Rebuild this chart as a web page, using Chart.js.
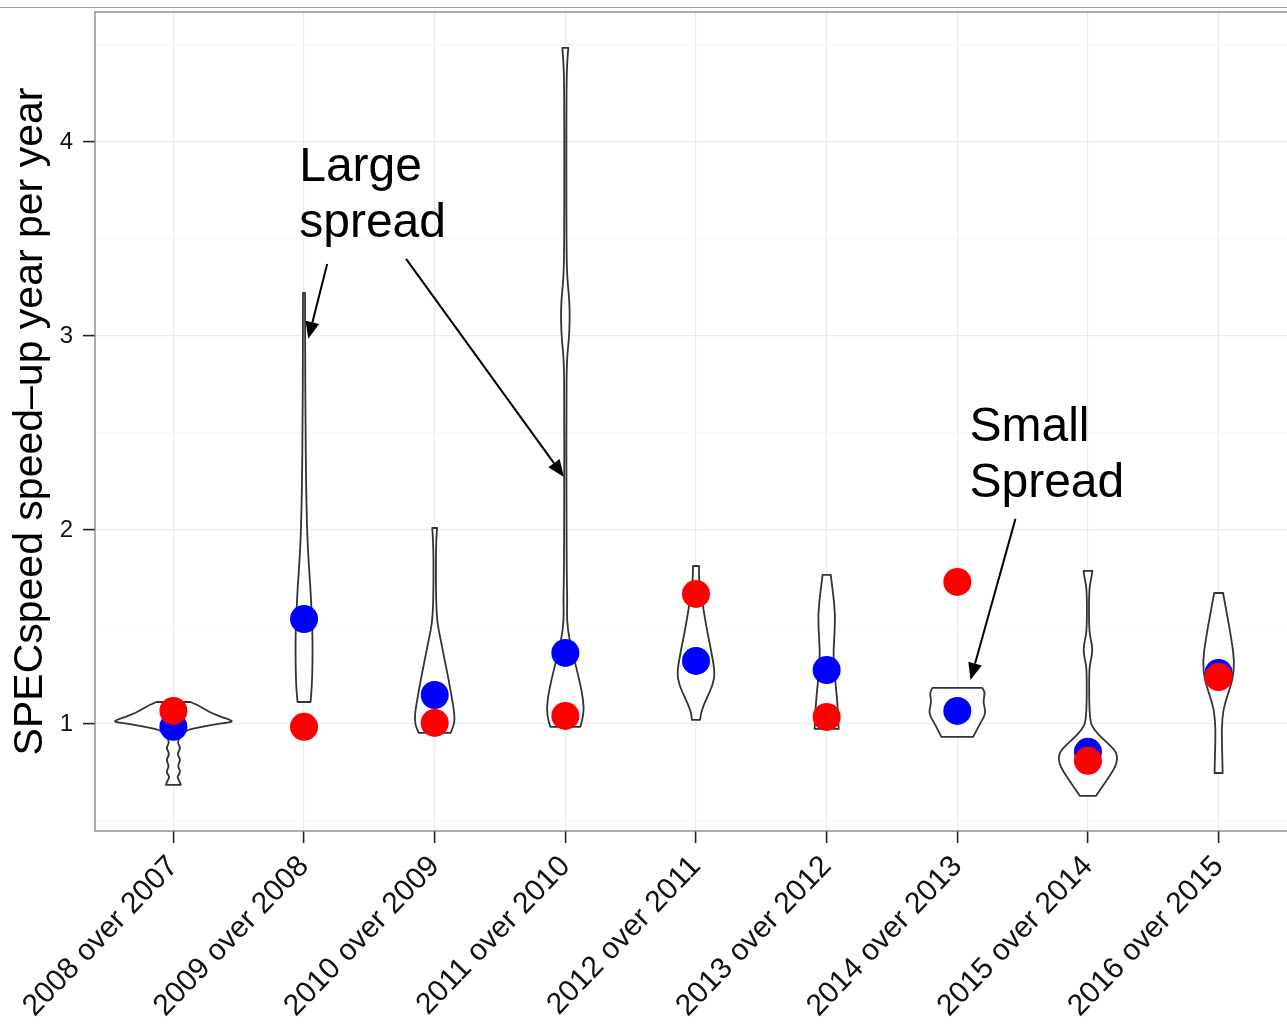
<!DOCTYPE html>
<html>
<head>
<meta charset="utf-8">
<script src="https://cdn.jsdelivr.net/npm/chart.js@4.4.1/dist/chart.umd.min.js"></script>
<style>
  html, body { margin: 0; padding: 0; background: #fff; overflow: hidden; }
  #wrap { width: 1297px; height: 1027px; }
</style>
</head>
<body>
<div id="wrap"><canvas id="myChart" width="1297" height="1027"></canvas></div>
<script>
var FONT = "'Liberation Sans', Arial, Helvetica, sans-serif";

// categories on the x axis
var categories = ["2008 over 2007", "2009 over 2008", "2010 over 2009", "2011 over 2010",
  "2012 over 2011", "2013 over 2012", "2014 over 2013", "2015 over 2014", "2016 over 2015"];

// the two point series
var pointsRed  = [1.067, 0.985, 1.005, 1.041, 1.670, 1.036, 1.732, 0.810, 1.242];
var pointsBlue = [0.985, 1.541, 1.149, 1.366, 1.325, 1.278, 1.067, 0.856, 1.263];

// y ticks
var yMajorTicks = [1, 2, 3, 4];
var yMinorTicks = [0.5, 1.5, 2.5, 3.5, 4.5];

// violin outlines: [value, half width in category units], bottom to top
var violins = [
  [[0.686,0.057],[0.707,0.046],[0.727,0.027],[0.753,0.057],[0.784,0.031],[0.814,0.057],[0.845,0.027],
   [0.876,0.057],[0.902,0.031],[0.928,0.046],[0.948,0.061],[0.969,0.107],[0.985,0.214],[1.000,0.344],
   [1.010,0.455],[1.021,0.436],[1.036,0.367],[1.057,0.291],[1.077,0.237],[1.098,0.183],[1.113,0.130]],
  [[1.113,0.050],[1.201,0.061],[1.330,0.065],[1.459,0.065],[1.588,0.057],[1.691,0.050],[1.845,0.034],
   [2.000,0.023],[2.258,0.015],[2.567,0.011],[2.928,0.008],[3.222,0.008]],
  [[0.954,0.122],[0.995,0.149],[1.046,0.153],[1.124,0.134],[1.227,0.107],[1.330,0.076],[1.433,0.046],
   [1.536,0.015],[1.742,0.008],[1.948,0.011],[2.010,0.019]],
  [[0.985,0.115],[1.046,0.141],[1.124,0.138],[1.227,0.107],[1.330,0.069],[1.433,0.031],[1.536,0.011],
   [1.639,0.015],[1.742,0.011],[2.155,0.008],[2.670,0.008],[2.876,0.011],[2.979,0.027],[3.082,0.034],
   [3.186,0.031],[3.289,0.015],[3.443,0.008],[4.294,0.008],[4.423,0.015],[4.485,0.023]],
  [[1.021,0.031],[1.062,0.038],[1.124,0.076],[1.201,0.130],[1.268,0.145],[1.381,0.115],[1.510,0.076],
   [1.639,0.046],[1.742,0.023],[1.814,0.023]],
  [[0.974,0.092],[1.098,0.084],[1.201,0.069],[1.330,0.050],[1.433,0.057],[1.562,0.067],[1.691,0.046],
   [1.768,0.031]],
  [[0.933,0.122],[0.995,0.168],[1.057,0.222],[1.113,0.195],[1.160,0.214],[1.186,0.191]],
  [[0.629,0.061],[0.696,0.130],[0.773,0.206],[0.825,0.229],[0.866,0.206],[0.918,0.122],[0.969,0.046],
   [1.021,0.011],[1.278,0.008],[1.330,0.023],[1.381,0.036],[1.433,0.023],[1.485,0.008],[1.691,0.008],
   [1.742,0.023],[1.789,0.034]],
  [[0.747,0.031],[0.866,0.027],[0.969,0.023],[1.072,0.034],[1.149,0.069],[1.227,0.107],[1.320,0.122],
   [1.433,0.099],[1.562,0.065],[1.675,0.034]]
];

// annotations (data coordinates)
var notes = [
  {x: 0.963, y: 3.799, lines: ["Large", "spread"]},
  {x: 6.093, y: 2.459, lines: ["Small", "Spread"]}
];
// arrows: [x0, y0, x1 (tip), y1 (tip)]
var arrows = [
  [1.177, 3.371, 1.032, 2.985],
  [1.781, 3.397, 2.989, 2.273],
  [6.445, 2.057, 6.101, 1.227]
];

function smoothTo(ctx, p) {
  ctx.lineTo(p[0][0], p[0][1]);
  for (var k = 1; k < p.length - 1; k++) {
    var mx = (p[k][0] + p[k+1][0]) / 2, my = (p[k][1] + p[k+1][1]) / 2;
    ctx.quadraticCurveTo(p[k][0], p[k][1], mx, my);
  }
  ctx.lineTo(p[p.length-1][0], p[p.length-1][1]);
}

var violinPlugin = {
  id: 'violins',
  beforeDatasetsDraw: function(chart) {
    var ctx = chart.ctx, x = chart.scales.x, y = chart.scales.y;
    ctx.save();
    ctx.lineWidth = 1.8;
    ctx.strokeStyle = '#333';
    ctx.fillStyle = '#fff';
    ctx.lineJoin = 'round';
    violins.forEach(function(prof, i) {
      var right = prof.map(function(d) { return [x.getPixelForValue(i + d[1]), y.getPixelForValue(d[0])]; });
      var left = prof.map(function(d) { return [x.getPixelForValue(i - d[1]), y.getPixelForValue(d[0])]; }).reverse();
      ctx.beginPath();
      ctx.moveTo(right[0][0], right[0][1]);
      smoothTo(ctx, right);
      smoothTo(ctx, left);
      ctx.closePath();
      ctx.fill();
      ctx.stroke();
    });
    ctx.restore();
  }
};

var framePlugin = {
  id: 'frame',
  afterDatasetsDraw: function(chart) {
    var ctx = chart.ctx, a = chart.chartArea, x = chart.scales.x, y = chart.scales.y;
    ctx.save();
    // panel border
    ctx.strokeStyle = '#808080';
    ctx.lineWidth = 1.3;
    ctx.strokeRect(a.left, a.top, a.right - a.left, a.bottom - a.top);
    ctx.strokeStyle = '#a0a0a0';
    ctx.lineWidth = 1;
    ctx.beginPath();
    ctx.moveTo(0, 7.5);
    ctx.lineTo(chart.width, 7.5);
    ctx.stroke();

    // text notes
    ctx.fillStyle = '#000';
    ctx.font = '48px ' + FONT;
    ctx.textAlign = 'left';
    ctx.textBaseline = 'alphabetic';
    notes.forEach(function(n) {
      var px = x.getPixelForValue(n.x), py = y.getPixelForValue(n.y);
      n.lines.forEach(function(t, li) { ctx.fillText(t, px, py + li * 56); });
    });

    // arrows
    ctx.strokeStyle = '#000';
    ctx.lineWidth = 2;
    arrows.forEach(function(ar) {
      var x0 = x.getPixelForValue(ar[0]), y0 = y.getPixelForValue(ar[1]);
      var x1 = x.getPixelForValue(ar[2]), y1 = y.getPixelForValue(ar[3]);
      var ang = Math.atan2(y1 - y0, x1 - x0), len = 17, half = 7;
      var bx = x1 - len * Math.cos(ang), by = y1 - len * Math.sin(ang);
      ctx.beginPath();
      ctx.moveTo(x0, y0);
      ctx.lineTo(bx, by);
      ctx.stroke();
      ctx.beginPath();
      ctx.moveTo(x1, y1);
      ctx.lineTo(bx + half * Math.sin(ang), by - half * Math.cos(ang));
      ctx.lineTo(bx - half * Math.sin(ang), by + half * Math.cos(ang));
      ctx.closePath();
      ctx.fill();
    });
    ctx.restore();
  }
};

var ctx = document.getElementById('myChart').getContext('2d');

var chart = new Chart(ctx, {
  type: 'scatter',
  data: {
    datasets: [{
        label: 'red',
        data: pointsRed.map(function(v, i) { return {x: i, y: v}; }),
        backgroundColor: '#ff0000',
        borderColor: '#ff0000',
        borderWidth: 0,
        pointRadius: 14
      },
      {
        label: 'blue',
        data: pointsBlue.map(function(v, i) { return {x: i, y: v}; }),
        backgroundColor: '#0000ff',
        borderColor: '#0000ff',
        borderWidth: 0,
        pointRadius: 14
      }
    ]
  },
  options: {
    responsive: false,
    maintainAspectRatio: false,
    animation: false,
    // panel runs a little past the right edge of the picture, like the original
    layout: {autoPadding: false, padding: {top: 12, left: 0, right: 0, bottom: 0}},
    plugins: {legend: {display: false}, tooltip: {enabled: false}},
    scales: {
      x: {
        type: 'linear',
        min: -0.6,
        max: 8.6,
        afterBuildTicks: function(axis) {
          axis.ticks = categories.map(function(c, i) { return {value: i}; });
        },
        afterFit: function(axis) {
          axis.height = 196;
          axis.paddingLeft = 0;
          axis.paddingRight = 0;
        },
        grid: {color: '#ebebeb', lineWidth: 1.2, tickColor: '#222', tickLength: 12, tickWidth: 1.6},
        border: {display: false},
        ticks: {
          autoSkip: false,
          minRotation: 46,
          maxRotation: 46,
          padding: 6,
          color: '#111',
          font: {size: 30, family: FONT},
          callback: function(v) { return categories[v]; }
        }
      },
      y: {
        min: 0.448,
        max: 4.67,
        afterBuildTicks: function(axis) {
          axis.ticks = yMinorTicks.concat(yMajorTicks).sort(function(a, b) { return a - b; })
            .map(function(v) { return {value: v}; });
        },
        afterFit: function(axis) {
          axis.width = 95;
          axis.paddingTop = 0;
          axis.paddingBottom = 0;
        },
        grid: {
          color: function(c) { return yMajorTicks.indexOf(c.tick.value) >= 0 ? '#ebebeb' : '#f7f7f7'; },
          lineWidth: 1.2,
          tickColor: function(c) { return yMajorTicks.indexOf(c.tick.value) >= 0 ? '#222' : 'rgba(0,0,0,0)'; },
          tickLength: 12,
          tickWidth: 1.6
        },
        border: {display: false},
        ticks: {
          padding: 10,
          color: '#111',
          font: {size: 24, family: FONT},
          callback: function(v) { return yMajorTicks.indexOf(v) >= 0 ? String(v) : ''; }
        },
        title: {
          display: true,
          text: 'SPECspeed speed\u2013up year per year',
          color: '#000',
          font: {size: 41, family: FONT},
          padding: {top: 6, bottom: 0}
        }
      }
    }
  },
  plugins: [violinPlugin, framePlugin]
});
</script>
</body>
</html>
